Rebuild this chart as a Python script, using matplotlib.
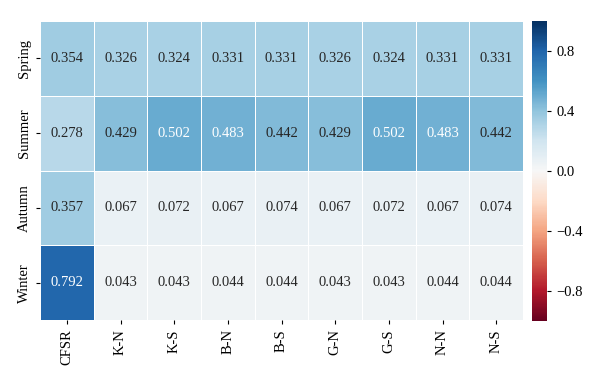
import matplotlib
matplotlib.use("Agg")
import matplotlib.pyplot as plt
import numpy as np
import seaborn as sns

seasons = ["Spring", "Summer", "Autumn", "Winter"]
models = ["CFSR", "K-N", "K-S", "B-N", "B-S", "G-N", "G-S", "N-N", "N-S"]

spring = [0.354, 0.326, 0.324, 0.331, 0.331, 0.326, 0.324, 0.331, 0.331]
summer = [0.278, 0.429, 0.502, 0.483, 0.442, 0.429, 0.502, 0.483, 0.442]
autumn = [0.357, 0.067, 0.072, 0.067, 0.074, 0.067, 0.072, 0.067, 0.074]
winter = [0.792, 0.043, 0.043, 0.044, 0.044, 0.043, 0.043, 0.044, 0.044]

cbar_ticks = [-0.8, -0.4, 0.0, 0.4, 0.8]

plt.rcParams["font.family"] = ["Liberation Serif", "DejaVu Serif"]

data = np.array([spring, summer, autumn, winter])

fig = plt.figure(figsize=(6, 3.82), dpi=100)
ax = fig.add_axes([0.0667, 0.162, 0.805, 0.783])
cax = fig.add_axes([0.887, 0.160, 0.025, 0.785])

sns.heatmap(
    data, ax=ax, cbar_ax=cax, cmap="RdBu", vmin=-1, vmax=1,
    annot=True, fmt=".3f", linewidths=0.6, linecolor="white",
    xticklabels=models, yticklabels=seasons,
    annot_kws={"fontsize": 10.5},
    cbar_kws={"ticks": cbar_ticks},
)

ax.tick_params(axis="x", labelrotation=90, labelsize=10.5, length=3, width=0.8)
ax.tick_params(axis="y", labelrotation=90, labelsize=10.5, length=3, width=0.8)
for lab in ax.get_yticklabels():
    lab.set_va("center")
cax.tick_params(labelsize=10.5, length=3, width=0.8)

fig.savefig("out.png", dpi=100)
